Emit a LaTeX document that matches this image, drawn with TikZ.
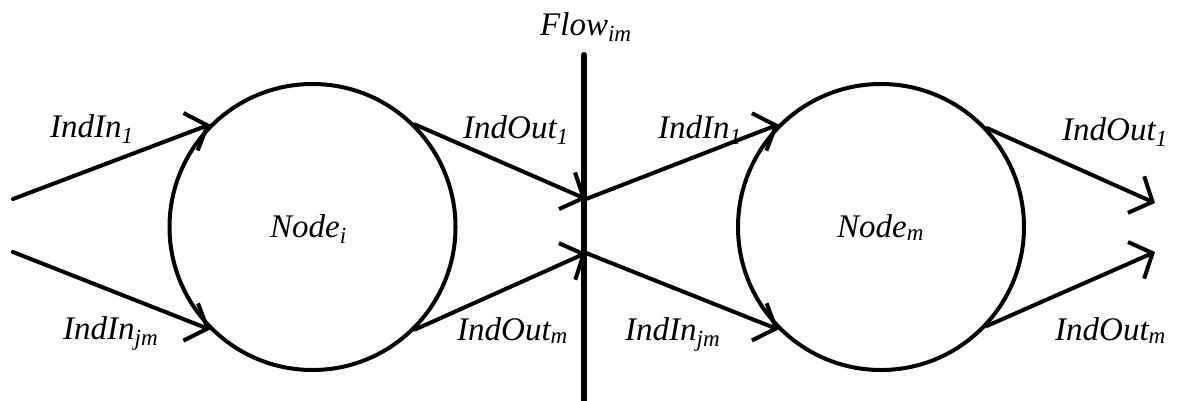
\documentclass[tikz,border=0pt]{standalone}
\usepackage{fontspec}
\setmainfont{Liberation Serif}
\usetikzlibrary{arrows.meta}
\begin{document}
\begin{tikzpicture}[x=1pt,y=-1pt,
  lbl/.style={font=\fontsize{33}{38}\selectfont\itshape, inner sep=0pt, anchor=base west},
  nodecirc/.style={circle, draw, line width=4pt, minimum size=286pt, inner sep=0pt},
  conn/.style={line width=4pt, line cap=round, -{Straight Barb[length=18pt,width=40pt]}},
  plain/.style={line width=4pt, line cap=round},
  flowline/.style={line width=6pt, line cap=round}]
\useasboundingbox (0,0) rectangle (1185,400);
% circles
\node[nodecirc] (ni) at (312.5,227) {};
\node[nodecirc] (nm) at (881,227) {};
% labels inside circles
\node[lbl] (lni) at (270,237) {Node\textsubscript{i}};
\node[lbl] (lnm) at (837,237) {Node\textsubscript{m}};
% flow line
\coordinate (ftop) at (584,55);
\coordinate (fbot) at (584,402);
\draw[flowline] (ftop) -- (fbot);
\coordinate (fa) at (586,199);
\coordinate (fb) at (586,253);
% free ends
\coordinate (lin1) at (13,199);
\coordinate (linj) at (13,252);
\coordinate (rout1) at (1155,203);
\coordinate (routm) at (1155,252);
% connectors
\draw[conn] (lin1) -- (ni.135);
\draw[conn] (linj) -- (ni.225);
\draw[conn] (ni.45) -- (fa);
\draw[conn] (ni.-45) -- (fb);
\draw[conn] (fa) -- (nm.135);
\draw[conn] (fb) -- (nm.225);
\draw[conn] (nm.43) -- (rout1);
\draw[conn] (nm.-43) -- (routm);
% labels
\node[lbl] (tflow) at (540,35) {Flow\textsubscript{im}};
\node[lbl] (ta) at (50,137) {IndIn\textsubscript{1}};
\node[lbl] (tb) at (63,339) {IndIn\textsubscript{jm}};
\node[lbl] (tc) at (463,138) {IndOut\textsubscript{1}};
\node[lbl] (td) at (457,340) {IndOut\textsubscript{m}};
\node[lbl] (te) at (658,138) {IndIn\textsubscript{1}};
\node[lbl] (tf) at (625,340) {IndIn\textsubscript{jm}};
\node[lbl] (tg) at (1062,140) {IndOut\textsubscript{1}};
\node[lbl] (th) at (1055,340) {IndOut\textsubscript{m}};
\end{tikzpicture}
\end{document}
